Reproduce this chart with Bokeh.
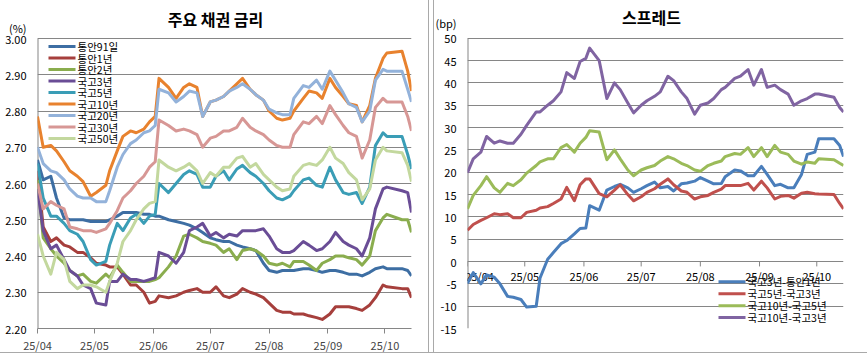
import pandas as pd
from bokeh.plotting import figure
from bokeh.models import (Range1d, FixedTicker, DatetimeTickFormatter, Label, NumeralTickFormatter)
from bokeh.layouts import row
from bokeh.embed import file_html
from bokeh.resources import INLINE
from bokeh.core.properties import value

FONT = "Noto Sans CJK KR"
GRID = "#868686"
BORDER = "#a9a9a9"

dates = ["2025-04-01","2025-04-04","2025-04-08","2025-04-11","2025-04-15","2025-04-18","2025-04-22",
         "2025-04-25","2025-04-29","2025-05-02","2025-05-07","2025-05-09","2025-05-13","2025-05-16",
         "2025-05-20","2025-05-23","2025-05-27","2025-05-30","2025-06-02","2025-06-04","2025-06-09",
         "2025-06-13","2025-06-17","2025-06-20","2025-06-24","2025-06-27","2025-07-01","2025-07-04",
         "2025-07-08","2025-07-11","2025-07-15","2025-07-18","2025-07-22","2025-07-25","2025-07-29",
         "2025-08-01","2025-08-05","2025-08-08","2025-08-12","2025-08-14","2025-08-19","2025-08-22",
         "2025-08-26","2025-08-29","2025-09-02","2025-09-05","2025-09-09","2025-09-12","2025-09-16",
         "2025-09-19","2025-09-23","2025-09-26","2025-09-30","2025-10-02","2025-10-10","2025-10-13",
         "2025-10-15"]
month_ticks = ["2025-04-01","2025-05-01","2025-06-01","2025-07-01","2025-08-01","2025-09-01","2025-10-01"]
month_labels = ["25/04","25/05","25/06","25/07","25/08","25/09","25/10"]

left_ticks = [2.2, 2.3, 2.4, 2.5, 2.6, 2.7, 2.8, 2.9, 3.0]
right_ticks = [-15, -10, -5, 0, 5, 10, 15, 20, 25, 30, 35, 40, 45, 50]

# 주요 채권 금리 (%)
msb_91d = [2.665,2.61,2.62,2.56,2.505,2.50,2.50,2.50,2.495,2.495,2.495,2.50,2.51,2.52,2.52,2.52,2.515,2.515,
           2.51,2.51,2.50,2.495,2.49,2.485,2.475,2.465,2.45,2.445,2.44,2.44,2.43,2.425,2.42,2.415,2.38,
           2.36,2.355,2.36,2.36,2.36,2.365,2.365,2.36,2.355,2.36,2.36,2.355,2.35,2.35,2.345,2.355,2.365,
           2.37,2.365,2.365,2.36,2.345]
msb_1y = [2.635,2.48,2.44,2.45,2.43,2.425,2.41,2.41,2.395,2.38,2.375,2.37,2.37,2.35,2.32,2.32,2.30,2.27,
          2.275,2.29,2.285,2.29,2.30,2.305,2.31,2.30,2.30,2.315,2.29,2.285,2.295,2.31,2.30,2.295,2.285,
          2.27,2.25,2.245,2.245,2.24,2.24,2.235,2.23,2.225,2.24,2.26,2.26,2.26,2.255,2.25,2.265,2.285,
          2.32,2.315,2.31,2.31,2.285]
msb_2y = [2.61,2.45,2.42,2.40,2.38,2.36,2.345,2.35,2.33,2.325,2.35,2.34,2.375,2.355,2.33,2.33,2.33,2.33,
          2.335,2.34,2.37,2.40,2.455,2.46,2.45,2.44,2.435,2.43,2.41,2.42,2.39,2.415,2.42,2.415,2.40,
          2.38,2.375,2.38,2.37,2.385,2.385,2.375,2.36,2.38,2.39,2.40,2.40,2.395,2.39,2.375,2.40,2.47,
          2.505,2.515,2.50,2.50,2.465]
ktb_3y = [2.585,2.47,2.42,2.43,2.39,2.36,2.345,2.32,2.31,2.27,2.265,2.33,2.33,2.35,2.335,2.335,2.33,2.335,
          2.34,2.41,2.40,2.38,2.41,2.47,2.48,2.49,2.455,2.465,2.45,2.46,2.455,2.47,2.47,2.47,2.475,
          2.455,2.42,2.41,2.41,2.415,2.44,2.43,2.415,2.42,2.44,2.465,2.44,2.43,2.42,2.40,2.45,2.53,
          2.585,2.59,2.58,2.575,2.52]
ktb_5y = [2.655,2.56,2.51,2.51,2.49,2.47,2.46,2.44,2.39,2.375,2.385,2.43,2.49,2.47,2.505,2.515,2.49,2.51,
          2.515,2.60,2.575,2.60,2.625,2.635,2.625,2.59,2.59,2.62,2.635,2.61,2.64,2.65,2.63,2.62,2.60,
          2.58,2.56,2.555,2.565,2.58,2.61,2.615,2.595,2.59,2.645,2.61,2.575,2.57,2.575,2.545,2.59,2.705,
          2.74,2.73,2.73,2.68,2.64]
ktb_10y = [2.785,2.70,2.705,2.69,2.66,2.635,2.62,2.605,2.565,2.575,2.595,2.635,2.69,2.73,2.745,2.74,2.75,2.77,
           2.785,2.89,2.865,2.835,2.865,2.875,2.865,2.785,2.825,2.83,2.84,2.855,2.875,2.89,2.86,2.845,2.83,
           2.80,2.78,2.775,2.78,2.80,2.835,2.855,2.85,2.835,2.89,2.865,2.84,2.82,2.815,2.77,2.815,2.89,
           2.945,2.96,2.965,2.91,2.855]
ktb_20y = [2.70,2.655,2.635,2.63,2.61,2.585,2.565,2.56,2.56,2.55,2.55,2.58,2.645,2.68,2.71,2.72,2.74,2.745,
           2.76,2.86,2.85,2.825,2.84,2.855,2.85,2.785,2.825,2.83,2.84,2.855,2.865,2.875,2.86,2.845,2.83,
           2.805,2.795,2.79,2.79,2.835,2.87,2.865,2.885,2.86,2.91,2.885,2.85,2.82,2.81,2.77,2.80,2.885,
           2.915,2.91,2.91,2.86,2.825]
ktb_30y = [2.60,2.53,2.55,2.54,2.53,2.48,2.475,2.47,2.47,2.465,2.475,2.49,2.525,2.56,2.58,2.60,2.62,2.645,
           2.66,2.775,2.76,2.745,2.75,2.745,2.735,2.70,2.725,2.73,2.745,2.745,2.755,2.78,2.755,2.745,2.735,
           2.72,2.705,2.70,2.70,2.735,2.77,2.765,2.785,2.765,2.815,2.79,2.76,2.74,2.73,2.67,2.72,2.81,
           2.835,2.825,2.825,2.785,2.745]
ktb_50y = [2.46,2.40,2.35,2.41,2.39,2.33,2.31,2.32,2.32,2.315,2.30,2.33,2.38,2.44,2.47,2.50,2.53,2.545,
           2.55,2.665,2.645,2.635,2.645,2.655,2.635,2.60,2.63,2.62,2.645,2.645,2.67,2.675,2.645,2.655,2.625,
           2.61,2.59,2.58,2.585,2.62,2.65,2.655,2.65,2.665,2.70,2.67,2.655,2.63,2.61,2.555,2.585,2.665,
           2.70,2.69,2.685,2.65,2.605]

# 스프레드 (bp)
sp_3y_1y = [-4.9,-2.5,-5,-3,-3.5,-5,-7.8,-8,-8.5,-10.2,-10,-3.7,0.5,2,4,4.7,6.2,7.4,7.5,12.5,11.5,16,16.8,
            17.3,16.5,15.5,16.3,17,17.8,16.5,16.8,15.8,17.4,17.6,18,18.8,18,17.4,17.5,19,20.5,20.3,19.2,
            19.2,21.3,19.5,17,17.3,16.5,16.5,19.5,24,24.5,27.5,27.5,26,23.5]
sp_5y_3y = [7,8.3,9.2,9.8,10.7,10.5,10.7,9.8,9.8,11,11.5,12,12.3,13,14,16.6,13.6,17.2,18.5,18.5,15.2,14.5,
            16,17.2,15,13.6,14.5,15.5,16.3,17.3,18.5,17.2,15.8,15.5,14,14.5,14.8,15.5,16.2,17,17,17,17.5,
            16,18,16.5,14,14.6,14.8,14.2,15.3,15.5,15.2,15.1,15,13,11.8]
sp_10y_5y = [11.8,14.8,17,19,16.5,15.5,17.5,17,18.3,19.8,21.5,22.3,23,23,25.5,26.2,24.5,26.5,27.8,29.3,29,
             22.8,25,23,20.5,19.2,20.5,21,21.5,22.5,23.5,23,22,21.5,20.5,20.2,21.5,22,22.5,23.5,24.2,24,
             25.5,23.5,25.5,23.5,26,24.5,24,22.5,21.8,22.3,22,23,22.8,22,21.5]
sp_10y_3y = [19.9,23,24.5,28,26.5,27,26.5,26.5,28.5,30.5,33.5,33.5,35,36,38,42.3,41,44.8,45.5,47.8,45,36.5,
             40,38.5,35.5,33.3,35,36,37,38,41.5,40.5,38,36.5,33,35,35.5,36.5,38.5,39,41,41.5,43,39.5,43,
             39,39.5,38.5,37.5,35,36,36.5,37.5,37.5,36.8,34.5,33.5]

left_names = ["통안91일","통안1년","통안2년","국고3년","국고5년","국고10년","국고20년","국고30년","국고50년"]
left_series = [msb_91d, msb_1y, msb_2y, ktb_3y, ktb_5y, ktb_10y, ktb_20y, ktb_30y, ktb_50y]
left_colors = ["#3d6ea3","#a63f3c","#8aad4e","#6a4d96","#3a9db6","#e8822e","#93b2da","#d79795","#c3d89e"]

right_names = ["국고3년-통안1년","국고5년-국고3년","국고10년-국고5년","국고10년-국고3년"]
right_series = [sp_3y_1y, sp_5y_3y, sp_10y_5y, sp_10y_3y]
right_colors = ["#4a7ebb","#c0504d","#9bbb59","#8064a2"]

x = pd.to_datetime(dates)
mt = pd.to_datetime(month_ticks)
tick_ms = [t.timestamp() * 1000 for t in mt]
x_start = x[0]
x_end = x[-1]
xs_ms = x_start.timestamp() * 1000
span_ms = x_end.timestamp() * 1000 - xs_ms

fmt = DatetimeTickFormatter(days="%y/%m", months="%y/%m", years="%y/%m")

H = 356
TOP_GAP = 38          # top gridline position in the canvas


class Geo:
    """figure-local pixel -> data helper for placing titles and the legend key"""
    def __init__(self, left, width, ymax, per_px):
        self.left, self.width, self.ymax, self.per_px = left, width, ymax, per_px

    def x(self, px):
        return xs_ms + span_ms * (px - self.left) / self.width

    def y(self, py):
        return self.ymax - (py - TOP_GAP) * self.per_px


def make_fig(width, left, right, bottom, ymin, ymax, ticks, unit_value, unit_text, fmt_str, border_css):
    frame_h = H - bottom - TOP_GAP
    per_px = (ymax - ymin) / frame_h
    y_top = ymax + TOP_GAP * per_px
    p = figure(width=width, height=H, x_axis_type="datetime",
               x_range=Range1d(x_start, x_end), y_range=Range1d(ymin, y_top),
               output_backend="svg", toolbar_location=None,
               min_border_left=left, min_border_right=right, min_border_top=0,
               min_border_bottom=bottom)
    p.outline_line_color = None
    p.border_fill_alpha = 0
    p.background_fill_color = "white"
    p.styles = border_css
    p.xgrid.visible = False
    p.ygrid.ticker = FixedTicker(ticks=ticks)
    p.ygrid.grid_line_color = GRID
    p.ygrid.grid_line_width = 1
    ax = p.yaxis[0]
    ax.ticker = FixedTicker(ticks=ticks + [unit_value])
    ax.formatter = NumeralTickFormatter(format=fmt_str)
    ax.major_label_overrides = {unit_value: unit_text}
    ax.axis_line_color = None
    ax.major_tick_line_color = None
    ax.minor_tick_line_color = None
    ax.major_label_text_font = FONT
    ax.major_label_text_font_size = "11px"
    ax.major_label_text_color = "black"
    ax.major_label_standoff = 5
    p.segment(x0=[x_start], y0=[ymin], x1=[x_start], y1=[ymax], line_color=GRID, line_width=2)
    geo = Geo(left, width - left - right, ymax, per_px)
    return p, geo


def add_title(p, geo, text, px_x, px_y):
    p.add_layout(Label(x=geo.x(px_x), y=geo.y(px_y), text=text, text_align="center",
                       text_baseline="middle", text_font=FONT, text_font_size="16px",
                       text_font_style="bold", text_color="black"))


def add_key(p, geo, names, colors, px_x, px_y, row_h):
    ys = [geo.y(px_y + row_h * i) for i in range(len(names))]
    n = len(names)
    p.segment(x0=[geo.x(px_x)] * n, y0=ys, x1=[geo.x(px_x + 27)] * n, y1=ys,
              line_color=colors, line_width=3)
    p.text(x=[geo.x(px_x + 29)] * n, y=ys, text=names, text_align="left", text_baseline="middle",
           text_font=value(FONT), text_font_size="10.5px", text_color="black")


def border_style(vline_px):
    return {
        "background-image": f"linear-gradient({BORDER},{BORDER}), linear-gradient({BORDER},{BORDER})",
        "background-size": "1px 353px, 100% 1px",
        "background-position": f"{vline_px}px 0px, 0px 352px",
        "background-repeat": "no-repeat",
    }


# ---------------- left chart (canvas x 0..430) ----------------
p1, g1 = make_fig(430, 37, 19, 28, 2.2, 3.0, left_ticks, 3.03, "(%)", "0.00", border_style(428))
p1.xaxis.ticker = FixedTicker(ticks=tick_ms)
p1.xaxis.formatter = fmt
p1.xaxis.axis_line_color = GRID
p1.xaxis.major_tick_line_color = GRID
p1.xaxis.major_tick_out = 5
p1.xaxis.major_tick_in = 0
p1.xaxis.minor_tick_line_color = None
p1.xaxis.major_label_text_font = FONT
p1.xaxis.major_label_text_font_size = "11px"
p1.xaxis.major_label_standoff = 3

for name, ys, c in zip(left_names, left_series, left_colors):
    p1.line(x, ys, line_color=c, line_width=3, line_join="round")

add_key(p1, g1, left_names, left_colors, 48, 46, 11.5)
add_title(p1, g1, "주요 채권 금리", 215, 18)

# ---------------- right chart (canvas x 430..867, local coords) ----------------
p2, g2 = make_fig(437, 37, 24, 26, -15, 50, right_ticks, 53.5, "(bp)", "0", border_style(3))
p2.xaxis.visible = False

# category axis through zero: tick marks and month labels
# (first label nudged right so it stays inside the plotting frame)
label_dx = [12] + [0] * (len(mt) - 1)
p2.segment(x0=mt, y0=[0] * len(mt), x1=mt, y1=[-1.1] * len(mt), line_color=GRID, line_width=1)
p2.text(x=mt, y=[0] * len(mt), text=month_labels, x_offset=label_dx, y_offset=14,
        text_align="center", text_baseline="middle", text_font=value(FONT),
        text_font_size="11px", text_color="black")

for name, ys, c in zip(right_names, right_series, right_colors):
    p2.line(x, ys, line_color=c, line_width=3, line_join="round")

add_key(p2, g2, right_names, right_colors, 288, 283, 12)
add_title(p2, g2, "스프레드", 221, 17)

layout = row(p1, p2)
open("out.html", "w").write(file_html(layout, INLINE))
